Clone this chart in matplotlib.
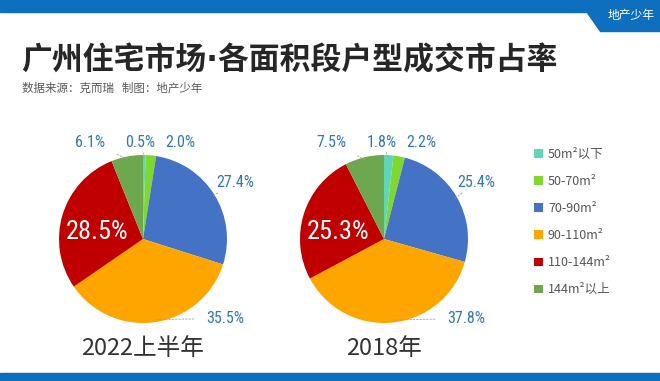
import numpy as np
import matplotlib
matplotlib.use("Agg")
import matplotlib.pyplot as plt
from matplotlib import font_manager
from matplotlib.patches import Polygon, Rectangle

# data
categories = ['50m²以下', '50-70m²', '70-90m²', '90-110m²', '110-144m²', '144m²以上']
share_2022 = [0.5, 2.0, 27.4, 35.5, 28.5, 6.1]
share_2018 = [1.8, 2.2, 25.4, 37.8, 25.3, 7.5]
years = ['2022上半年', '2018年']

colors = ['#5fd6b8', '#80d82e', '#4472c4', '#ffa500', '#c00000', '#6ea84e']
blue = '#0f6fbf'
label_color = '#2f78b8'

cjk = ['Noto Sans CJK SC', 'DejaVu Sans']
installed = {f.name for f in font_manager.fontManager.ttflist}
narrow = 'DejaVu Sans'
for name in ['Roboto Condensed', 'Barlow Semi Condensed', 'Archivo Narrow',
             'Sofia Sans Condensed', 'Asap Condensed']:
    if name in installed:
        narrow = name
        break

W, H = 660, 381
fig = plt.figure(figsize=(W / 100, H / 100), dpi=100)
fig.patch.set_facecolor('white')

def fx(x):
    return x / W

def fy(y):
    return 1 - y / H

# top / bottom bands
fig.patches.append(Rectangle((0, fy(12)), 1, 12 / H, transform=fig.transFigure, color=blue, zorder=0))
fig.patches.append(Polygon([(fx(586), fy(11)), (1, fy(11)), (1, fy(31)), (fx(600), fy(31))],
                           closed=True, transform=fig.transFigure, color=blue, zorder=0))
fig.patches.append(Rectangle((0, 0), 1, 8 / H, transform=fig.transFigure, color=blue, zorder=0))
fig.text(fx(631), fy(16), '地产少年', color='white', fontsize=8.5, style='italic',
         family=cjk, ha='center', va='center')

# title (middle dot from DejaVu so it stays narrow)
fig.text(fx(21), fy(60), '广州住宅市场·各面积段户型成交市占率', fontsize=22.2, fontweight='bold',
         color='#262626', family=['DejaVu Sans', 'Noto Sans CJK SC'], ha='left', va='center')
fig.text(fx(22), fy(88), '数据来源：克而瑞   制图：地产少年', fontsize=8.3,
         color='#595959', family=cjk, ha='left', va='center')

# label offsets in pie-radius units (same layout for both pies)
label_pos = [(-0.03, 1.15), (0.44, 1.15), (1.10, 0.67), (0.98, -0.945), (-0.55, 0.08), (-0.63, 1.15)]
inside = 4

centers = [(143, 239), (384, 239)]
R = 84
L = 1.6
S = 2 * L * R

wedges_first = None
for (cx, cy), vals, year in zip(centers, [share_2022, share_2018], years):
    ax = fig.add_axes([fx(cx - S / 2), fy(cy + S / 2), S / W, S / H])
    wedges, _ = ax.pie(vals, colors=colors, startangle=90, counterclock=False, radius=1,
                       wedgeprops=dict(linewidth=0))
    if wedges_first is None:
        wedges_first = wedges
    ax.set_xlim(-L, L)
    ax.set_ylim(-L, L)
    ax.set_aspect('equal')
    ax.axis('off')
    for i, (w, v) in enumerate(zip(wedges, vals)):
        tx, ty = label_pos[i]
        txt = f'{v:.1f}%'
        if i == inside:
            ax.text(tx, ty, txt, color='white', fontsize=19, family=narrow,
                    ha='center', va='center')
            continue
        mid = np.deg2rad((w.theta1 + w.theta2) / 2)
        ax.annotate(txt, xy=(0.97 * np.cos(mid), 0.97 * np.sin(mid)), xytext=(tx, ty),
                    color=label_color, fontsize=11.5, family=narrow, ha='center', va='center',
                    arrowprops=dict(arrowstyle='-', color='#a0a0a0', lw=0.6, linestyle=(0, (2, 2)),
                                    shrinkA=7, shrinkB=0))
    ax.text(0, -1.3, year, color='#333333', fontsize=17, family=cjk, ha='center', va='center')

# legend
leg = fig.legend(wedges_first, categories, loc='upper left', bbox_to_anchor=(fx(523), fy(137)),
                 frameon=False, handlelength=0.7, handleheight=0.7, handletextpad=0.4,
                 labelspacing=1.12, prop={'family': cjk, 'size': 9})
for t in leg.get_texts():
    t.set_color('#555555')

fig.savefig('out.png', dpi=100)
